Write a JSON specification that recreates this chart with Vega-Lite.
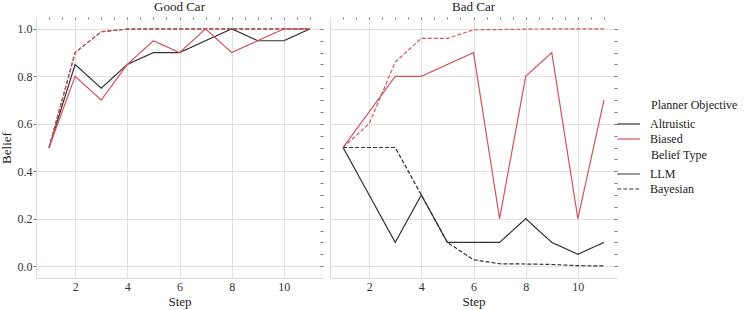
{
  "$schema": "https://vega.github.io/schema/vega-lite/v6.json",
  "background": "white",
  "padding": {"left": 0, "top": 0, "right": 5, "bottom": 2},
  "config": {
    "font": "Liberation Serif, serif",
    "view": {"stroke": null},
    "axis": {
      "labelFont": "Liberation Serif, serif", "titleFont": "Liberation Serif, serif",
      "labelFontSize": 12, "titleFontSize": 13, "titleFontWeight": "normal",
      "labelColor": "#333333", "titleColor": "#222222",
      "gridColor": "#e0e0e0", "gridWidth": 1,
      "domainColor": "#d8d8d8", "tickColor": "#777777"
    },
    "legend": {
      "labelFont": "Liberation Serif, serif", "titleFont": "Liberation Serif, serif",
      "labelFontSize": 12, "titleFontSize": 12, "titleFontWeight": "normal",
      "labelColor": "#222222", "titleColor": "#222222",
      "layout": {"right": {"anchor": "middle", "direction": "vertical", "margin": 5, "bounds": "full"}}
    },
    "title": {"font": "Liberation Serif, serif", "fontSize": 13, "fontWeight": "normal", "color": "#222222", "offset": 3}
  },
  "data": {"values": [
    {"car": "Good Car", "objective": "Altruistic", "belief_type": "LLM", "step": 1, "belief": 0.5},
    {"car": "Good Car", "objective": "Altruistic", "belief_type": "LLM", "step": 2, "belief": 0.85},
    {"car": "Good Car", "objective": "Altruistic", "belief_type": "LLM", "step": 3, "belief": 0.75},
    {"car": "Good Car", "objective": "Altruistic", "belief_type": "LLM", "step": 4, "belief": 0.85},
    {"car": "Good Car", "objective": "Altruistic", "belief_type": "LLM", "step": 5, "belief": 0.9},
    {"car": "Good Car", "objective": "Altruistic", "belief_type": "LLM", "step": 6, "belief": 0.9},
    {"car": "Good Car", "objective": "Altruistic", "belief_type": "LLM", "step": 7, "belief": 0.95},
    {"car": "Good Car", "objective": "Altruistic", "belief_type": "LLM", "step": 8, "belief": 1.0},
    {"car": "Good Car", "objective": "Altruistic", "belief_type": "LLM", "step": 9, "belief": 0.95},
    {"car": "Good Car", "objective": "Altruistic", "belief_type": "LLM", "step": 10, "belief": 0.95},
    {"car": "Good Car", "objective": "Altruistic", "belief_type": "LLM", "step": 11, "belief": 1.0},
    {"car": "Good Car", "objective": "Altruistic", "belief_type": "Bayesian", "step": 1, "belief": 0.5},
    {"car": "Good Car", "objective": "Altruistic", "belief_type": "Bayesian", "step": 2, "belief": 0.9},
    {"car": "Good Car", "objective": "Altruistic", "belief_type": "Bayesian", "step": 3, "belief": 0.988},
    {"car": "Good Car", "objective": "Altruistic", "belief_type": "Bayesian", "step": 4, "belief": 0.999},
    {"car": "Good Car", "objective": "Altruistic", "belief_type": "Bayesian", "step": 5, "belief": 1.0},
    {"car": "Good Car", "objective": "Altruistic", "belief_type": "Bayesian", "step": 6, "belief": 1.0},
    {"car": "Good Car", "objective": "Altruistic", "belief_type": "Bayesian", "step": 7, "belief": 1.0},
    {"car": "Good Car", "objective": "Altruistic", "belief_type": "Bayesian", "step": 8, "belief": 1.0},
    {"car": "Good Car", "objective": "Altruistic", "belief_type": "Bayesian", "step": 9, "belief": 1.0},
    {"car": "Good Car", "objective": "Altruistic", "belief_type": "Bayesian", "step": 10, "belief": 1.0},
    {"car": "Good Car", "objective": "Altruistic", "belief_type": "Bayesian", "step": 11, "belief": 1.0},
    {"car": "Good Car", "objective": "Biased", "belief_type": "LLM", "step": 1, "belief": 0.5},
    {"car": "Good Car", "objective": "Biased", "belief_type": "LLM", "step": 2, "belief": 0.8},
    {"car": "Good Car", "objective": "Biased", "belief_type": "LLM", "step": 3, "belief": 0.7},
    {"car": "Good Car", "objective": "Biased", "belief_type": "LLM", "step": 4, "belief": 0.85},
    {"car": "Good Car", "objective": "Biased", "belief_type": "LLM", "step": 5, "belief": 0.95},
    {"car": "Good Car", "objective": "Biased", "belief_type": "LLM", "step": 6, "belief": 0.9},
    {"car": "Good Car", "objective": "Biased", "belief_type": "LLM", "step": 7, "belief": 1.0},
    {"car": "Good Car", "objective": "Biased", "belief_type": "LLM", "step": 8, "belief": 0.9},
    {"car": "Good Car", "objective": "Biased", "belief_type": "LLM", "step": 9, "belief": 0.95},
    {"car": "Good Car", "objective": "Biased", "belief_type": "LLM", "step": 10, "belief": 1.0},
    {"car": "Good Car", "objective": "Biased", "belief_type": "LLM", "step": 11, "belief": 1.0},
    {"car": "Good Car", "objective": "Biased", "belief_type": "Bayesian", "step": 1, "belief": 0.5},
    {"car": "Good Car", "objective": "Biased", "belief_type": "Bayesian", "step": 2, "belief": 0.9},
    {"car": "Good Car", "objective": "Biased", "belief_type": "Bayesian", "step": 3, "belief": 0.988},
    {"car": "Good Car", "objective": "Biased", "belief_type": "Bayesian", "step": 4, "belief": 0.999},
    {"car": "Good Car", "objective": "Biased", "belief_type": "Bayesian", "step": 5, "belief": 1.0},
    {"car": "Good Car", "objective": "Biased", "belief_type": "Bayesian", "step": 6, "belief": 1.0},
    {"car": "Good Car", "objective": "Biased", "belief_type": "Bayesian", "step": 7, "belief": 1.0},
    {"car": "Good Car", "objective": "Biased", "belief_type": "Bayesian", "step": 8, "belief": 1.0},
    {"car": "Good Car", "objective": "Biased", "belief_type": "Bayesian", "step": 9, "belief": 1.0},
    {"car": "Good Car", "objective": "Biased", "belief_type": "Bayesian", "step": 10, "belief": 1.0},
    {"car": "Good Car", "objective": "Biased", "belief_type": "Bayesian", "step": 11, "belief": 1.0},
    {"car": "Bad Car", "objective": "Altruistic", "belief_type": "LLM", "step": 1, "belief": 0.5},
    {"car": "Bad Car", "objective": "Altruistic", "belief_type": "LLM", "step": 2, "belief": 0.3},
    {"car": "Bad Car", "objective": "Altruistic", "belief_type": "LLM", "step": 3, "belief": 0.1},
    {"car": "Bad Car", "objective": "Altruistic", "belief_type": "LLM", "step": 4, "belief": 0.3},
    {"car": "Bad Car", "objective": "Altruistic", "belief_type": "LLM", "step": 5, "belief": 0.1},
    {"car": "Bad Car", "objective": "Altruistic", "belief_type": "LLM", "step": 6, "belief": 0.1},
    {"car": "Bad Car", "objective": "Altruistic", "belief_type": "LLM", "step": 7, "belief": 0.1},
    {"car": "Bad Car", "objective": "Altruistic", "belief_type": "LLM", "step": 8, "belief": 0.2},
    {"car": "Bad Car", "objective": "Altruistic", "belief_type": "LLM", "step": 9, "belief": 0.1},
    {"car": "Bad Car", "objective": "Altruistic", "belief_type": "LLM", "step": 10, "belief": 0.05},
    {"car": "Bad Car", "objective": "Altruistic", "belief_type": "LLM", "step": 11, "belief": 0.1},
    {"car": "Bad Car", "objective": "Altruistic", "belief_type": "Bayesian", "step": 1, "belief": 0.5},
    {"car": "Bad Car", "objective": "Altruistic", "belief_type": "Bayesian", "step": 2, "belief": 0.5},
    {"car": "Bad Car", "objective": "Altruistic", "belief_type": "Bayesian", "step": 3, "belief": 0.5},
    {"car": "Bad Car", "objective": "Altruistic", "belief_type": "Bayesian", "step": 4, "belief": 0.3},
    {"car": "Bad Car", "objective": "Altruistic", "belief_type": "Bayesian", "step": 5, "belief": 0.1},
    {"car": "Bad Car", "objective": "Altruistic", "belief_type": "Bayesian", "step": 6, "belief": 0.027},
    {"car": "Bad Car", "objective": "Altruistic", "belief_type": "Bayesian", "step": 7, "belief": 0.01},
    {"car": "Bad Car", "objective": "Altruistic", "belief_type": "Bayesian", "step": 8, "belief": 0.009},
    {"car": "Bad Car", "objective": "Altruistic", "belief_type": "Bayesian", "step": 9, "belief": 0.007},
    {"car": "Bad Car", "objective": "Altruistic", "belief_type": "Bayesian", "step": 10, "belief": 0.002},
    {"car": "Bad Car", "objective": "Altruistic", "belief_type": "Bayesian", "step": 11, "belief": 0.001},
    {"car": "Bad Car", "objective": "Biased", "belief_type": "LLM", "step": 1, "belief": 0.5},
    {"car": "Bad Car", "objective": "Biased", "belief_type": "LLM", "step": 2, "belief": 0.65},
    {"car": "Bad Car", "objective": "Biased", "belief_type": "LLM", "step": 3, "belief": 0.8},
    {"car": "Bad Car", "objective": "Biased", "belief_type": "LLM", "step": 4, "belief": 0.8},
    {"car": "Bad Car", "objective": "Biased", "belief_type": "LLM", "step": 5, "belief": 0.85},
    {"car": "Bad Car", "objective": "Biased", "belief_type": "LLM", "step": 6, "belief": 0.9},
    {"car": "Bad Car", "objective": "Biased", "belief_type": "LLM", "step": 7, "belief": 0.2},
    {"car": "Bad Car", "objective": "Biased", "belief_type": "LLM", "step": 8, "belief": 0.8},
    {"car": "Bad Car", "objective": "Biased", "belief_type": "LLM", "step": 9, "belief": 0.9},
    {"car": "Bad Car", "objective": "Biased", "belief_type": "LLM", "step": 10, "belief": 0.2},
    {"car": "Bad Car", "objective": "Biased", "belief_type": "LLM", "step": 11, "belief": 0.7},
    {"car": "Bad Car", "objective": "Biased", "belief_type": "Bayesian", "step": 1, "belief": 0.5},
    {"car": "Bad Car", "objective": "Biased", "belief_type": "Bayesian", "step": 2, "belief": 0.6},
    {"car": "Bad Car", "objective": "Biased", "belief_type": "Bayesian", "step": 3, "belief": 0.86},
    {"car": "Bad Car", "objective": "Biased", "belief_type": "Bayesian", "step": 4, "belief": 0.96},
    {"car": "Bad Car", "objective": "Biased", "belief_type": "Bayesian", "step": 5, "belief": 0.96},
    {"car": "Bad Car", "objective": "Biased", "belief_type": "Bayesian", "step": 6, "belief": 0.996},
    {"car": "Bad Car", "objective": "Biased", "belief_type": "Bayesian", "step": 7, "belief": 0.997},
    {"car": "Bad Car", "objective": "Biased", "belief_type": "Bayesian", "step": 8, "belief": 0.999},
    {"car": "Bad Car", "objective": "Biased", "belief_type": "Bayesian", "step": 9, "belief": 1.0},
    {"car": "Bad Car", "objective": "Biased", "belief_type": "Bayesian", "step": 10, "belief": 1.0},
    {"car": "Bad Car", "objective": "Biased", "belief_type": "Bayesian", "step": 11, "belief": 1.0}
  ]},
  "spacing": 6,
  "resolve": {
    "scale": {"color": "shared", "strokeDash": "shared"},
    "legend": {"color": "shared", "strokeDash": "shared"}
  },
  "hconcat": [
    {
      "title": "Good Car",
      "width": 287,
      "height": 261,
      "transform": [{"filter": "datum.car === 'Good Car'"}],
      "resolve": {"axis": {"x": "independent", "y": "independent"}},
      "layer": [
        {
          "mark": {"type": "line", "strokeWidth": 1.2},
          "encoding": {
            "x": {"field": "step", "type": "quantitative", "scale": {"domain": [0.5, 11.5], "nice": false, "zero": false},
                  "axis": {"orient": "bottom", "title": "Step", "values": [2, 4, 6, 8, 10], "ticks": false, "labelPadding": 3, "titlePadding": 3, "domain": true}},
            "y": {"field": "belief", "type": "quantitative", "scale": {"domain": [-0.05, 1.05], "nice": false, "zero": false},
                  "axis": {"orient": "left", "title": "Belief", "values": [0, 0.2, 0.4, 0.6, 0.8, 1.0], "format": ".1f", "tickSize": 3, "labelPadding": 1, "titlePadding": 4, "domain": true}},
            "color": {"field": "objective", "type": "nominal", "title": "Planner Objective",
                      "scale": {"domain": ["Altruistic", "Biased"], "range": ["#333333", "#d1545b"]},
                      "legend": {"symbolType": "M-5.9,0H-2.7", "symbolSize": 200, "symbolStrokeWidth": 1.2, "offset": 33, "padding": 0, "labelOffset": -17, "rowPadding": 1, "titlePadding": 4}},
            "strokeDash": {"field": "belief_type", "type": "nominal", "title": "Belief Type",
                           "scale": {"domain": ["LLM", "Bayesian"], "range": [[1, 0], [4, 2]]},
                           "legend": {"symbolType": "M-5.9,0H-2.7", "symbolSize": 200, "symbolStrokeWidth": 1.2, "symbolStrokeColor": "#333333", "offset": 33, "padding": 0, "labelOffset": -17, "rowPadding": 1, "titlePadding": 4}}
          }
        },
        {
          "mark": {"type": "point", "opacity": 0},
          "encoding": {
            "x": {"field": "step", "type": "quantitative", "scale": {"domain": [0.5, 11.5], "nice": false, "zero": false},
                  "axis": {"orient": "top", "title": null, "labels": false, "domain": false, "grid": false, "tickSize": 2, "offset": -2,
                           "values": [1, 1.5, 2, 2.5, 3, 3.5, 4, 4.5, 5, 5.5, 6, 6.5, 7, 7.5, 8, 8.5, 9, 9.5, 10, 10.5, 11]}},
            "y": {"field": "belief", "type": "quantitative", "scale": {"domain": [-0.05, 1.05], "nice": false, "zero": false},
                  "axis": {"orient": "right", "title": null, "labels": false, "domain": false, "grid": false, "tickSize": 3, "offset": -3,
                           "values": [0, 0.05, 0.1, 0.15, 0.2, 0.25, 0.3, 0.35, 0.4, 0.45, 0.5, 0.55, 0.6, 0.65, 0.7, 0.75, 0.8, 0.85, 0.9, 0.95, 1.0]}}
          }
        }
      ]
    },
    {
      "title": "Bad Car",
      "width": 287,
      "height": 261,
      "transform": [{"filter": "datum.car === 'Bad Car'"}],
      "resolve": {"axis": {"x": "independent", "y": "independent"}},
      "layer": [
        {
          "mark": {"type": "line", "strokeWidth": 1.2},
          "encoding": {
            "x": {"field": "step", "type": "quantitative", "scale": {"domain": [0.5, 11.5], "nice": false, "zero": false},
                  "axis": {"orient": "bottom", "title": "Step", "values": [2, 4, 6, 8, 10], "ticks": false, "labelPadding": 3, "titlePadding": 3, "domain": true}},
            "y": {"field": "belief", "type": "quantitative", "scale": {"domain": [-0.05, 1.05], "nice": false, "zero": false},
                  "axis": {"orient": "left", "title": null, "labels": false, "ticks": false, "values": [0, 0.2, 0.4, 0.6, 0.8, 1.0], "domain": true, "minExtent": 0, "maxExtent": 0}},
            "color": {"field": "objective", "type": "nominal", "title": "Planner Objective",
                      "scale": {"domain": ["Altruistic", "Biased"], "range": ["#333333", "#d1545b"]}},
            "strokeDash": {"field": "belief_type", "type": "nominal", "title": "Belief Type",
                           "scale": {"domain": ["LLM", "Bayesian"], "range": [[1, 0], [4, 2]]}}
          }
        },
        {
          "mark": {"type": "point", "opacity": 0},
          "encoding": {
            "x": {"field": "step", "type": "quantitative", "scale": {"domain": [0.5, 11.5], "nice": false, "zero": false},
                  "axis": {"orient": "top", "title": null, "labels": false, "domain": false, "grid": false, "tickSize": 2, "offset": -2,
                           "values": [1, 1.5, 2, 2.5, 3, 3.5, 4, 4.5, 5, 5.5, 6, 6.5, 7, 7.5, 8, 8.5, 9, 9.5, 10, 10.5, 11]}},
            "y": {"field": "belief", "type": "quantitative", "scale": {"domain": [-0.05, 1.05], "nice": false, "zero": false},
                  "axis": {"orient": "right", "title": null, "labels": false, "domain": false, "grid": false, "tickSize": 3, "offset": -3,
                           "values": [0, 0.05, 0.1, 0.15, 0.2, 0.25, 0.3, 0.35, 0.4, 0.45, 0.5, 0.55, 0.6, 0.65, 0.7, 0.75, 0.8, 0.85, 0.9, 0.95, 1.0]}}
          }
        }
      ]
    }
  ]
}
